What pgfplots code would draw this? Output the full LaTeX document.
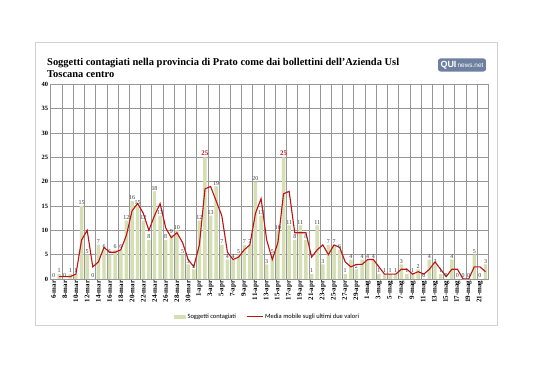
\documentclass[border=0pt]{standalone}
\usepackage{pgfplots}
\pgfplotsset{compat=1.18}
\usepackage{pgfplotstable}
\usepackage{fontspec}
\setmainfont{Liberation Serif}
\newfontfamily\legfont{Carlito}
\newfontfamily\logofont{Liberation Sans}
\definecolor{barc}{RGB}{214,222,180}
\definecolor{mared}{RGB}{192,18,18}
\definecolor{gridc}{RGB}{150,150,150}
\definecolor{labc}{RGB}{60,60,60}
\definecolor{logoc}{RGB}{110,128,160}

\pgfplotstableread{
x y
0 0
1 1
2 0
3 1
4 1
5 15
6 5
7 0
8 7
9 6
10 5
11 6
12 6
13 12
14 16
15 15
16 12
17 8
18 18
19 13
20 8
21 9
22 10
23 5
24 3
25 2
26 12
28 13
29 19
30 7
31 4
32 4
33 5
34 7
35 7
36 20
37 13
38 3
39 5
40 10
42 11
43 8
44 11
45 8
46 1
47 11
48 3
49 7
50 7
51 6
52 1
53 4
54 2
55 4
56 4
57 4
58 1
59 1
60 1
61 1
62 3
63 1
64 1
65 2
66 0
67 4
68 3
69 1
70 0
71 4
72 0
73 0
74 0
75 5
76 0
77 3
}\bars

\pgfplotstableread{
x y
27 25
41 25
}\peaks

\pgfplotstableread{
x y
1 0.5
2 0.5
3 0.5
4 1
5 8
6 10
7 2.5
8 3.5
9 6.5
10 5.5
11 5.5
12 6
13 9
14 14
15 15.5
16 13.5
17 10
18 13
19 15.5
20 10.5
21 8.5
22 9.5
23 7.5
24 4
25 2.5
26 7
27 18.5
28 19
29 16
30 13
31 5.5
32 4
33 4.5
34 6
35 7
36 13.5
37 16.5
38 8
39 4
40 7.5
41 17.5
42 18
43 9.5
44 9.5
45 9.5
46 4.5
47 6
48 7
49 5
50 7
51 6.5
52 3.5
53 2.5
54 3
55 3
56 4
57 4
58 2.5
59 1
60 1
61 1
62 2
63 2
64 1
65 1.5
66 1
67 2
68 3.5
69 2
70 0.5
71 2
72 2
73 0
74 0
75 2.5
76 2.5
77 1.5
}\mavg

\begin{document}
\begin{tikzpicture}
\fill[white] (0,0) rectangle (538bp,380bp);
\useasboundingbox (0,0) rectangle (538bp,380bp);
\draw[gray!35, line width=0.8bp] (35bp,338bp) rectangle (497bp,55bp);
\node[anchor=base west, font=\fontsize{10.5}{12}\selectfont\bfseries, inner sep=0pt] at (47bp,314.5bp) {Soggetti contagiati nella provincia di Prato come dai bollettini dell'Azienda Usl};
\node[anchor=base west, font=\fontsize{10.5}{12}\selectfont\bfseries, inner sep=0pt] at (47bp,302.5bp) {Toscana centro};
\node[fill=logoc, rounded corners=2.5bp, inner xsep=2.5bp, inner ysep=2.5bp, font=\logofont\fontsize{6.5}{7}\selectfont, text=white] at (462bp,315bp) {\textbf{\fontsize{9}{9}\selectfont QUI}\,news.net};
\begin{axis}[
  at={(50.7bp,101bp)}, anchor=south west,
  scale only axis, width=437.6bp, height=194.8bp,
  xmin=-0.5, xmax=77.5, ymin=0, ymax=40,
  ytick={0,5,...,40},
  xtick={0,2,...,76},
  xticklabels={6-mar,8-mar,10-mar,12-mar,14-mar,16-mar,18-mar,20-mar,22-mar,24-mar,26-mar,28-mar,30-mar,1-apr,3-apr,5-apr,7-apr,9-apr,11-apr,13-apr,15-apr,17-apr,19-apr,21-apr,23-apr,25-apr,27-apr,29-apr,1-mag,3-mag,5-mag,7-mag,9-mag,11-mag,13-mag,15-mag,17-mag,19-mag,21-mag},
  minor xtick={1.5,3.5,...,75.5},
  xminorgrids, ymajorgrids,
  minor grid style={gridc, line width=0.5bp},
  major grid style={gridc, line width=0.5bp},
  axis line style={gridc, line width=0.6bp},
  tick style={draw=none},
  /pgf/number format/assume math mode=true,
  x tick label style={rotate=90, anchor=east, font=\fontsize{7}{7}\selectfont\bfseries, inner sep=1.5bp},
  y tick label style={font=\fontsize{6.5}{7}\selectfont\bfseries, inner sep=2.5bp},
  legend style={at={(0.495,-0.195)}, anchor=center, draw=none, fill=none, legend columns=2,
    font=\legfont\fontsize{6.5}{7}\selectfont,
    /tikz/every even column/.append style={column sep=8bp}},
  legend cell align=left,
]
\addplot[ybar, bar shift=0pt, bar width=0.62, fill=barc, draw=none,
  nodes near coords,
  every node near coord/.append style={font=\fontsize{6}{7}\selectfont, text=labc, inner sep=1bp},
  legend image code/.code={\fill[barc] (0bp,-2bp) rectangle (12bp,2bp);}
  ] table {\bars};
\addlegendentry{Soggetti contagiati}
\addplot[ybar, bar shift=0pt, bar width=0.62, fill=barc, draw=none, forget plot,
  nodes near coords,
  every node near coord/.append style={font=\fontsize{7}{7}\selectfont\bfseries, text=mared, inner sep=1bp}
  ] table {\peaks};
\addplot[mared, line width=1.1bp, mark=none,
  legend image code/.code={\draw[mared, line width=1bp] (0bp,0bp) -- (16bp,0bp);}
  ] table {\mavg};
\addlegendentry{Media mobile sugli ultimi due valori}
\end{axis}
\end{tikzpicture}
\end{document}
